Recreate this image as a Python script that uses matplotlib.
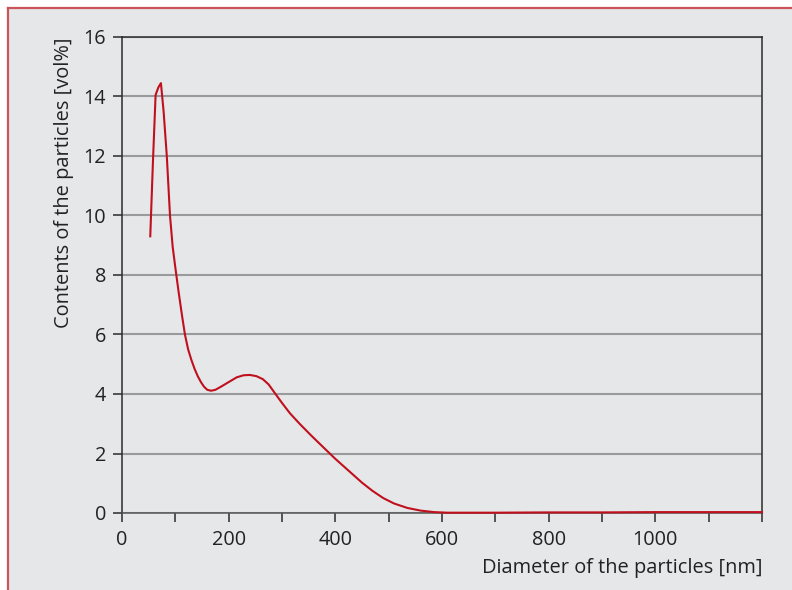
import matplotlib
matplotlib.use("Agg")
import matplotlib.pyplot as plt
from matplotlib.patches import Rectangle
from matplotlib.lines import Line2D
import numpy as np

diameter_nm = [53, 58, 63, 68, 73, 78, 84, 90, 95, 100, 106, 112, 118, 124, 130, 136,
               142, 148, 154, 160, 167, 175, 185, 200, 215, 228, 240, 252, 264, 275,
               287, 300, 315, 333, 355, 378, 400, 425, 450, 470, 490, 510, 535, 560,
               585, 610, 650, 700, 800, 900, 1000, 1100, 1200]
content_vol = [9.3, 11.8, 14.05, 14.3, 14.45, 13.5, 12.0, 10.0, 8.95, 8.25, 7.45,
               6.7, 6.0, 5.5, 5.15, 4.85, 4.6, 4.4, 4.24, 4.14, 4.11, 4.14, 4.24, 4.4,
               4.56, 4.63, 4.64, 4.6, 4.5, 4.32, 4.02, 3.7, 3.35, 3.0, 2.6, 2.2, 1.82,
               1.42, 1.02, 0.74, 0.5, 0.32, 0.17, 0.08, 0.03, 0.01, 0.01, 0.01, 0.02,
               0.02, 0.03, 0.03, 0.03]
x_tick_labels = ["0", "200", "400", "600", "800", "1000"]
y_ticks = [0, 2, 4, 6, 8, 10, 12, 14, 16]

plt.rcParams['font.family'] = ['Open Sans', 'DejaVu Sans']

W, H = 792, 590
fig = plt.figure(figsize=(W / 100, H / 100), dpi=100, facecolor='white')
bg = '#e6e7e9'
border = '#c9545a'
fig.patches.append(Rectangle((8 / W, 0), 1 - 8 / W, 1 - 8 / H, transform=fig.transFigure,
                             facecolor=bg, edgecolor='none', zorder=-2))
fig.lines.append(Line2D([8 / W, 1], [1 - 8 / H, 1 - 8 / H], transform=fig.transFigure,
                        color=border, lw=1.6, zorder=-1))
fig.lines.append(Line2D([8 / W, 8 / W], [0, 1 - 8 / H], transform=fig.transFigure,
                        color=border, lw=1.6, zorder=-1))

ax = fig.add_axes([122 / W, 1 - 513 / H, (762 - 122) / W, (513 - 37) / H])
ax.set_zorder(2)
ax.set_facecolor(bg)
ax.plot(diameter_nm, content_vol, color='#c0101e', lw=1.5, zorder=3, clip_on=False,
        solid_joinstyle='round')
ax.set_xlim(0, 1200)
ax.set_ylim(0, 16)

ax.set_yticks(y_ticks)
ax.set_yticklabels([str(v) for v in y_ticks])
xt = np.arange(0, 1201, 100)
ax.set_xticks(xt)
labels = []
for v in xt:
    s = str(int(v))
    labels.append(s if s in x_tick_labels else "")
ax.set_xticklabels(labels)

ax.grid(axis='y', color='#9a9a9c', lw=1.5, zorder=1)
ax.set_axisbelow(True)
for s in ax.spines.values():
    s.set_color('#2b2b2b')
    s.set_linewidth(1.1)
ax.spines['bottom'].set_color('#555555')
ax.tick_params(axis='both', direction='out', length=6.5, width=1.1, color='#2b2b2b',
               labelsize=14.3, labelcolor='#222222')
ax.tick_params(axis='x', pad=6)
ax.tick_params(axis='y', pad=5)

fig.text(762 / W, 1 - 568 / H, 'Diameter of the particles [nm]', ha='right', va='center',
         fontsize=14.4, color='#222222')
fig.text(64 / W, 1 - 38 / H, 'Contents of the particles [vol%]', ha='center', va='top',
         rotation=90, fontsize=14.4, color='#222222')

fig.savefig('out.png', dpi=100, facecolor='white')
